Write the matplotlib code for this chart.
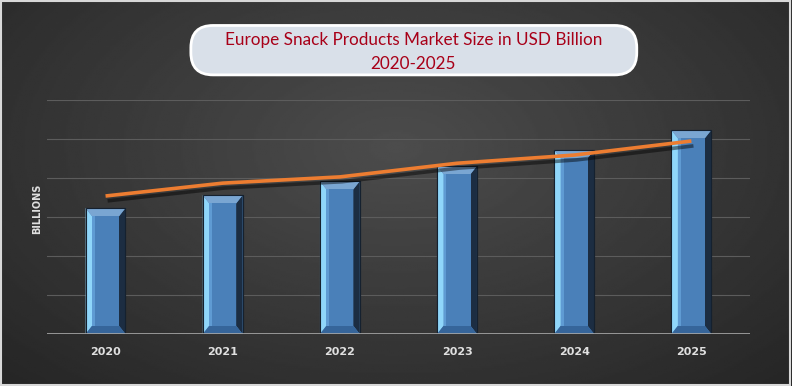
import numpy as np
import matplotlib.pyplot as plt
from matplotlib.patches import FancyBboxPatch, Polygon, Rectangle
import matplotlib.patheffects as pe

years = ['2020', '2021', '2022', '2023', '2024', '2025']
market_size = [3.23, 3.56, 3.92, 4.31, 4.72, 5.23]
trend = [3.54, 3.87, 4.03, 4.38, 4.59, 4.95]

fig = plt.figure(figsize=(7.92, 3.86), dpi=100)

# fond sombre en dégradé
bg = fig.add_axes([0, 0, 1, 1])
yy, xx = np.mgrid[0:1:200j, 0:1:400j]
r = np.sqrt(((xx - 0.5) / 0.75) ** 2 + ((yy - 0.62) / 0.9) ** 2)
shade = 0.30 - 0.16 * np.clip(r, 0, 1)
bg.imshow(shade, cmap='gray', vmin=0, vmax=1, extent=[0, 1, 0, 1],
          aspect='auto', origin='lower')
bg.add_patch(Rectangle((0.001, 0.002), 0.997, 0.995, fill=False,
                       edgecolor='#d8d8d8', lw=1.5, transform=bg.transAxes))
bg.set_xlim(0, 1)
bg.set_ylim(0, 1)
bg.axis('off')

ax = fig.add_axes([0.0593, 0.1347, 0.8876, 0.606])
ax.set_facecolor('none')
x = np.arange(len(years))
w = 0.34
ax.set_xlim(-0.5, 5.5)
ax.set_ylim(0, 6)

for g in range(1, 7):
    ax.axhline(g, color='#5c5c5c', lw=0.8, zorder=1)
ax.axhline(0, color='#a8a8a8', lw=1.2, zorder=5)

bars = ax.bar(x, market_size, width=w, color='#4f86bf', edgecolor='#1b2c40',
              lw=0.8, zorder=3)

# biseau des barres
bx, by = 0.055, 0.21
for b in bars:
    x0 = b.get_x()
    x1 = x0 + b.get_width()
    h = b.get_height()
    ax.add_patch(Polygon([(x0, 0), (x0 + bx, by), (x0 + bx, h - by), (x0, h)],
                         closed=True, color='#8fd6fa', zorder=4, lw=0))
    ax.add_patch(Polygon([(x1, 0), (x1 - bx, by), (x1 - bx, h - by), (x1, h)],
                         closed=True, color='#1c2d42', zorder=4, lw=0))
    ax.add_patch(Polygon([(x0, h), (x0 + bx, h - by), (x1 - bx, h - by), (x1, h)],
                         closed=True, color='#7aa6d2', zorder=4, lw=0))
    ax.add_patch(Polygon([(x0, 0), (x0 + bx, by), (x1 - bx, by), (x1, 0)],
                         closed=True, color='#36659a', zorder=4, lw=0))
    ax.add_patch(Rectangle((x0 + bx, by), b.get_width() - 2 * bx, h - 2 * by,
                           color='#4a80b9', zorder=4, lw=0))
    ax.add_patch(Rectangle((x0 + bx, by), 0.025, h - 2 * by,
                           color='#5f9bd3', zorder=4, lw=0))
    ax.add_patch(Rectangle((x0, 0), b.get_width(), h, fill=False,
                           edgecolor='#15212f', lw=0.8, zorder=4))

ax.plot(x, trend, color='#ed7d31', lw=2.6, zorder=6, solid_capstyle='butt',
        path_effects=[pe.SimpleLineShadow(offset=(1.5, -3.5), alpha=0.45),
                      pe.Normal()])

ax.set_xticks(x)
ax.set_xticklabels(years, color='#e0e0e0', fontsize=8, fontweight='bold')
ax.tick_params(axis='x', length=0, pad=9)
ax.set_yticks([])
for s in ax.spines.values():
    s.set_visible(False)

fig.text(0.047, 0.46, 'BILLIONS', rotation=90, color='#e0e0e0', fontsize=7,
         fontweight='bold', ha='center', va='center')

# encadré du titre
box = FancyBboxPatch((0.241, 0.806), 0.563, 0.128,
                     boxstyle='round,pad=0,rounding_size=0.028',
                     transform=fig.transFigure, facecolor='#d9e0e9',
                     edgecolor='white', lw=2, mutation_aspect=792 / 386)
fig.patches.append(box)
fig.text(0.522, 0.896, 'Europe Snack Products Market Size in USD Billion',
         color='#a80018', fontsize=12.3, ha='center', va='center',
         family='Lato')
fig.text(0.522, 0.834, '2020-2025', color='#a80018', fontsize=12.3,
         ha='center', va='center', family='Lato')

fig.savefig('out.png', dpi=100)
